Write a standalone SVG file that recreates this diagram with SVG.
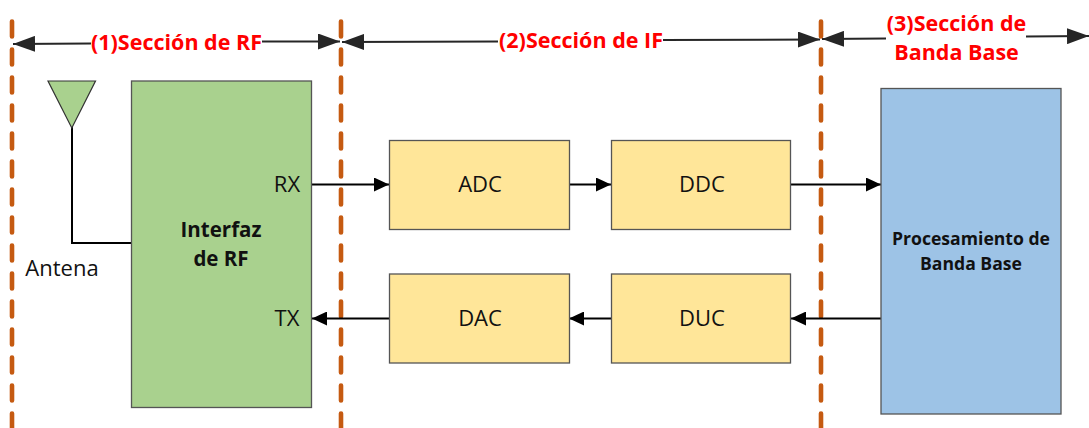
<svg xmlns="http://www.w3.org/2000/svg" width="1089" height="428" viewBox="0 0 1089 428">
<style>
text{font-family:"Open Sans","Noto Sans","Liberation Sans",sans-serif;text-anchor:middle;fill:#111}
.sec{font-size:21.500px;font-weight:700;fill:#ff0000}
.lbl{font-size:22px}
.b{font-weight:700}
.bold{font-size:20.500px;font-weight:700}
.sm{font-size:17.600px;font-weight:700}
.box{stroke:#555;stroke-width:1.3}
.yl{fill:#ffe699}
.dash{fill:none;stroke:#c55a11;stroke-width:4.6;stroke-linecap:round;stroke-dasharray:15 13}
.dim{fill:none;stroke:#262626;stroke-width:2}
.wire{fill:none;stroke:#000;stroke-width:2}
</style>
<defs>
<marker id="big" markerUnits="userSpaceOnUse" markerWidth="22" markerHeight="16" refX="22" refY="8" orient="auto-start-reverse"><path d="M0 0L22 8L0 16Z" fill="#262626"/></marker>
<marker id="sm" markerUnits="userSpaceOnUse" markerWidth="15" markerHeight="14" refX="15" refY="7" orient="auto"><path d="M0 0L15 7L0 14Z" fill="#000"/></marker>
</defs>
<g id="dividers">
<path class="dash" d="M12 21.500V428"/>
<path class="dash" d="M341 21.500V428"/>
<path class="dash" d="M821 21.500V428"/>
</g>
<g id="connectors">
<path class="dim" marker-start="url(#big)" d="M13 44L91 43.500"/>
<path class="dim" marker-end="url(#big)" d="M262 41.500L340 41.500"/>
<path class="dim" marker-start="url(#big)" d="M342 42L498 41.500"/>
<path class="dim" marker-end="url(#big)" d="M663 40L820 39.500"/>
<path class="dim" marker-start="url(#big)" d="M822 39L886 38.500"/>
<path class="dim" marker-end="url(#big)" d="M1026 36.500L1089 36"/>
<path class="wire" d="M72 127V243H132"/>
<path class="wire" marker-end="url(#sm)" d="M312 184.500H389"/>
<path class="wire" marker-end="url(#sm)" d="M570 184.500H611"/>
<path class="wire" marker-end="url(#sm)" d="M791 184.500H881"/>
<path class="wire" marker-end="url(#sm)" d="M881 318.500H791"/>
<path class="wire" marker-end="url(#sm)" d="M611 318.500H569"/>
<path class="wire" marker-end="url(#sm)" d="M389 318.500H312"/>
</g>
<g id="antenna">
<path d="M48 81H95.500L71.800 128Z" fill="#a9d18e" stroke="#333" stroke-width="1.200"/>
<text class="lbl" x="62" y="276">Antena</text>
</g>
<g id="rf">
<rect class="box" x="131.500" y="81" width="180" height="326.500" fill="#a9d18e"/>
<text class="bold" x="221" y="237">Interfaz</text>
<text class="bold" x="221" y="266">de RF</text>
<text class="lbl" x="287" y="192">RX</text>
<text class="lbl" x="287" y="326">TX</text>
</g>
<g id="adc"><rect class="box yl" x="389.500" y="140.500" width="180" height="89"/><text class="lbl" x="480" y="192">ADC</text></g>
<g id="ddc"><rect class="box yl" x="611.500" y="140.500" width="179" height="89"/><text class="lbl" x="702" y="192">DDC</text></g>
<g id="dac"><rect class="box yl" x="389.500" y="274" width="180" height="89"/><text class="lbl" x="480" y="326">DAC</text></g>
<g id="duc"><rect class="box yl" x="611.500" y="274" width="179" height="89"/><text class="lbl" x="702" y="326">DUC</text></g>
<g id="bb">
<rect class="box" x="881" y="88.500" width="180" height="325.500" fill="#9dc3e6"/>
<text class="sm" x="971" y="245">Procesamiento de</text>
<text class="sm" x="971" y="270">Banda Base</text>
</g>
<g id="titles">
<text class="sec" x="176.500" y="50">(1)Sección de RF</text>
<text class="sec" x="581" y="48">(2)Sección de IF</text>
<text class="sec" x="956.500" y="31">(3)Sección de</text>
<text class="sec" x="956.500" y="60">Banda Base</text>
</g>
</svg>
